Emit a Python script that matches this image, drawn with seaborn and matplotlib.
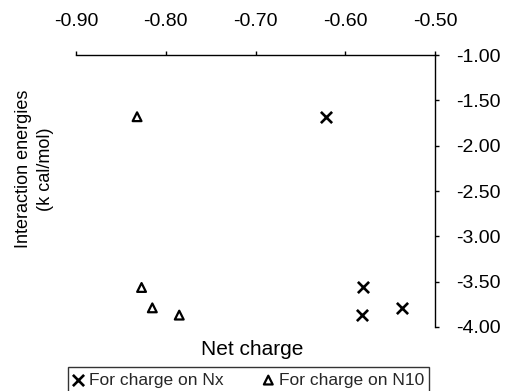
import numpy as np
import pandas as pd
import matplotlib.pyplot as plt
import seaborn as sns

sns.set_theme(style="white")
plt.rcParams['font.family'] = ['Liberation Sans', 'DejaVu Sans']
plt.rcParams['axes.unicode_minus'] = False

# Data
nx_charge = [-0.621, -0.580, -0.581, -0.537]
nx_energy = [-1.68, -3.555, -3.865, -3.79]
n10_charge = [-0.832, -0.827, -0.815, -0.785]
n10_energy = [-1.68, -3.565, -3.79, -3.87]

x_ticks = [-0.90, -0.80, -0.70, -0.60, -0.50]
y_ticks = [-1.00, -1.50, -2.00, -2.50, -3.00, -3.50, -4.00]

fig = plt.figure(figsize=(5.07, 3.91), dpi=100)
ax = fig.add_axes([0.150, 0.164, 0.708, 0.695])

sns.scatterplot(x=nx_charge, y=nx_energy, marker='x', s=65, color='black',
                linewidth=1.9, label='For charge on Nx', ax=ax)
sns.scatterplot(x=n10_charge, y=n10_energy, marker='^', s=40, facecolor='none',
                edgecolor='black', linewidth=1.6, label='For charge on N10', ax=ax)

ax.set_xlim(-0.90, -0.50)
ax.set_ylim(-4.00, -1.00)
ax.set_xticks(x_ticks)
ax.set_yticks(y_ticks)
ax.set_xticklabels(['%.2f' % v for v in x_ticks])
ax.set_yticklabels(['%.2f' % v for v in y_ticks])

# axes live on the top and right
for side in ['left', 'bottom']:
    ax.spines[side].set_visible(False)
for side in ['top', 'right']:
    ax.spines[side].set_visible(True)
    ax.spines[side].set_color('black')
    ax.spines[side].set_linewidth(1.0)
ax.xaxis.tick_top()
ax.yaxis.tick_right()
ax.tick_params(axis='x', direction='out', length=3, width=1, pad=15, labelsize=14, colors='black')
ax.tick_params(axis='y', direction='out', length=3, width=1, pad=12, labelsize=14, colors='black')

ax.xaxis.set_label_position('bottom')
ax.yaxis.set_label_position('left')
ax.set_xlabel('Net charge', fontsize=15, color='black')
ax.set_ylabel('Interaction energies\n(k cal/mol)', fontsize=13, linespacing=1.4, color='black')
ax.yaxis.set_label_coords(-0.062, 0.58)
ax.xaxis.set_label_coords(0.49, -0.05)

ax.get_legend().remove()
handles, labels = ax.get_legend_handles_labels()
leg = fig.legend(handles, labels, loc='center', bbox_to_anchor=(0.49, 0.028), ncol=2,
                 frameon=True, fancybox=False, edgecolor='black', fontsize=12.5,
                 handlelength=0.6, handletextpad=0.3, columnspacing=2.3,
                 borderpad=0.3, borderaxespad=0)
leg.get_frame().set_linewidth(1.0)

fig.savefig('out.png', dpi=100)
